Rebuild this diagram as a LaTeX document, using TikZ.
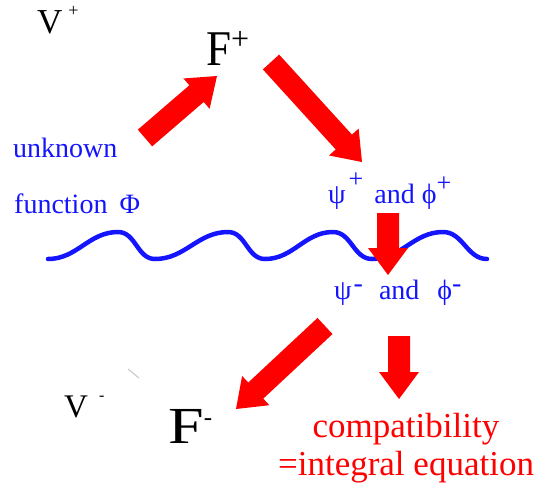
\documentclass[tikz,border=0pt]{standalone}
\usepackage{fontspec}
\setmainfont{Liberation Serif}
\usepackage{tikz}
\usetikzlibrary{calc, positioning}

\definecolor{arrowred}{RGB}{255,0,0}
\definecolor{textblue}{RGB}{20,20,255}

% block arrow from #1 to #2: shaft 22, head 40 wide and 27 long
\newcommand{\redarrow}[2]{%
  \coordinate (hb) at ($(#2)!27pt!(#1)$);
  \fill[arrowred] ($(#1)!11pt!90:(#2)$) -- ($(hb)!11pt!90:(#2)$)
    -- ($(hb)!20pt!90:(#2)$) -- (#2) -- ($(hb)!20pt!-90:(#2)$)
    -- ($(hb)!11pt!-90:(#2)$) -- ($(#1)!11pt!-90:(#2)$) -- cycle;}

\begin{document}
\begin{tikzpicture}[x=1pt, y=-1pt,
    sym/.style={inner sep=0pt, anchor=base west, text=black},
    bluelabel/.style={inner sep=0pt, anchor=base west, text=textblue,
                      font=\fontsize{28pt}{30pt}\selectfont},
    result/.style={inner sep=0pt, anchor=base, text=arrowred,
                   font=\fontsize{35pt}{38pt}\selectfont},
    wave/.style={draw=textblue, line width=4.5pt, line cap=round}
]
\useasboundingbox (0,0) rectangle (540,488);

% --- Potentials and transforms ---
\node (vp) [sym, font=\fontsize{35pt}{38pt}\selectfont] at (37,33)
    {V\hspace{6pt}\raisebox{17pt}{\fontsize{18pt}{18pt}\selectfont +}};
\node (fp) [sym, font=\fontsize{50pt}{52pt}\selectfont] at (206,65)
    {\scalebox{0.9}[1]{F}\raisebox{16pt}{\fontsize{32pt}{32pt}\selectfont +}};
\node (vm) [sym, font=\fontsize{33pt}{35pt}\selectfont] at (64,417)
    {V\hspace{11pt}\raisebox{17pt}{\fontsize{16pt}{16pt}\selectfont -}};
\node (fm) [sym, font=\fontsize{52pt}{54pt}\selectfont] at (168,443)
    {\scalebox{1.23}[1]{F}\raisebox{18pt}{\fontsize{25pt}{25pt}\selectfont -}};

% --- Unknown function and boundary values ---
\node (unk) [bluelabel] at (13,157) {unknown};
\node (fun) [bluelabel] at (14,213) {function\hspace{12pt}Φ};
\node (psip) [bluelabel] at (328,203)
    {ψ\hspace{3pt}\raisebox{16pt}{\fontsize{26pt}{26pt}\selectfont +}\hspace{11pt}and\hspace{7pt}ϕ\raisebox{12pt}{\fontsize{26pt}{26pt}\selectfont +}};
\node (psim) [bluelabel] at (334,299)
    {ψ\hspace{2pt}\raisebox{7pt}{-}\hspace{16pt}and\hspace{18pt}ϕ\raisebox{7pt}{-}};

% --- Result ---
\node (compat) [result] at (406,437) {compatibility};
\node (inteq) [result] at (406,475) {=integral equation};

% --- Wave ---
\coordinate (w0) at (48,259);
\coordinate (w1) at (118,232);
\coordinate (w2) at (155,259);
\coordinate (w3) at (228,232);
\coordinate (w4) at (265,259);
\coordinate (w5) at (333,232);
\coordinate (w6) at (372,259);
\coordinate (w7) at (443,232);
\coordinate (w8) at (487,259);
\draw [wave] (w0) to[out=0,in=180] (w1) to[out=0,in=180] (w2)
    to[out=0,in=180] (w3) to[out=0,in=180] (w4)
    to[out=0,in=180] (w5) to[out=0,in=180] (w6)
    to[out=0,in=180] (w7) to[out=0,in=180] (w8);

% --- Arrows ---
\coordinate (a1) at (145,138);  \coordinate (b1) at (217,76);
\coordinate (a2) at (271,62);   \coordinate (b2) at (362,162);
\coordinate (a3) at (388,213);  \coordinate (b3) at (388,275);
\coordinate (a4) at (325,326);  \coordinate (b4) at (236,409);
\coordinate (a5) at (399,336);  \coordinate (b5) at (399,399);
\redarrow{a1}{b1}
\redarrow{a2}{b2}
\redarrow{a3}{b3}
\redarrow{a4}{b4}
\redarrow{a5}{b5}

% stray mark
\draw [gray!45, line width=1pt] (128,369) -- (139,378);
\end{tikzpicture}
\end{document}
